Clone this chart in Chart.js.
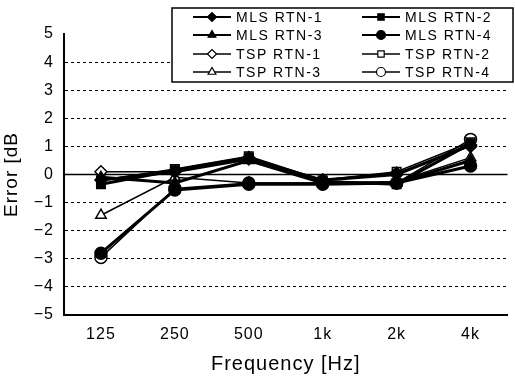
<!DOCTYPE html>
<html><head><meta charset="utf-8">
<script src="https://cdn.jsdelivr.net/npm/chart.js@4/dist/chart.umd.min.js"></script>
<style>html,body{margin:0;padding:0;background:#fff}#wrap{width:515px;height:376px}</style>
</head><body><div id="wrap"><canvas id="c" width="515" height="376"></canvas></div>
<script>
const categories = ['125', '250', '500', '1k', '2k', '4k'];
const yTicks = [5, 4, 3, 2, 1, 0, -1, -2, -3, -4, -5];
const seriesNames = ['MLS RTN-1', 'MLS RTN-2', 'MLS RTN-3', 'MLS RTN-4', 'TSP RTN-1', 'TSP RTN-2', 'TSP RTN-3', 'TSP RTN-4'];
const mlsRtn1 = [-0.2, 0.1, 0.55, -0.2, 0.0, 1.05];
const mlsRtn2 = [-0.35, 0.15, 0.6, -0.25, -0.35, 1.1];
const mlsRtn3 = [-0.1, -0.3, 0.5, -0.3, -0.3, 0.5];
const mlsRtn4 = [-2.8, -0.55, -0.35, -0.35, -0.3, 0.3];
const tspRtn1 = [0.1, 0.1, 0.6, -0.2, 0.05, 1.0];
const tspRtn2 = [-0.2, 0.2, 0.65, -0.2, 0.1, 1.15];
const tspRtn3 = [-1.45, -0.1, -0.3, -0.3, -0.25, 0.6];
const tspRtn4 = [-2.95, -0.5, -0.3, -0.3, -0.3, 1.25];

const values = [mlsRtn1, mlsRtn2, mlsRtn3, mlsRtn4, tspRtn1, tspRtn2, tspRtn3, tspRtn4];
const styles = ['rectRot', 'rect', 'triangle', 'circle', 'rectRot', 'rect', 'triangle', 'circle'];
const FONT = '"Liberation Sans", Arial, sans-serif';

const datasets = values.map((v, i) => {
  const filled = i < 4;
  return {
    label: seriesNames[i],
    data: v,
    borderColor: '#000',
    borderWidth: filled ? 3 : 1.5,
    backgroundColor: filled ? '#000' : '#fff',
    pointBackgroundColor: filled ? '#000' : '#fff',
    pointBorderColor: '#000',
    pointBorderWidth: 1.5,
    pointStyle: styles[i],
    pointRadius: 6,
    tension: 0
  };
});

const letterPlugin = {
  id: 'letter',
  beforeDraw(chart) { chart.ctx.letterSpacing = '1px'; }
};

const zeroLine = {
  id: 'zeroLine',
  beforeDatasetsDraw(chart) {
    const y = chart.scales.y.getPixelForValue(0);
    const a = chart.chartArea;
    const ctx = chart.ctx;
    ctx.save();
    ctx.strokeStyle = '#000'; ctx.lineWidth = 1.5; ctx.setLineDash([]);
    ctx.beginPath(); ctx.moveTo(a.left, y); ctx.lineTo(a.right, y); ctx.stroke();
    ctx.restore();
  }
};

const boxLegend = {
  id: 'boxLegend',
  afterDraw(chart) {
    const ctx = chart.ctx;
    ctx.save();
    ctx.fillStyle = '#fff';
    ctx.fillRect(172, 8, 341, 74);
    ctx.strokeStyle = '#000'; ctx.lineWidth = 1.5; ctx.setLineDash([]);
    ctx.strokeRect(172, 8, 341, 74);
    const rows = [17, 35, 54, 72];
    const cols = [{x0: 193, x1: 231, tx: 236}, {x0: 362, x1: 400, tx: 405}];
    ctx.font = '14px ' + FONT;
    ctx.letterSpacing = '1.5px';
    ctx.textBaseline = 'middle';
    chart.data.datasets.forEach((ds, i) => {
      const c = cols[i % 2];
      const y = rows[Math.floor(i / 2)];
      ctx.strokeStyle = '#000';
      ctx.lineWidth = i < 4 ? 2 : 1.5;
      ctx.beginPath(); ctx.moveTo(c.x0, y); ctx.lineTo(c.x1, y); ctx.stroke();
      ctx.fillStyle = ds.pointBackgroundColor;
      ctx.strokeStyle = '#000';
      ctx.lineWidth = 1.2;
      Chart.helpers.drawPoint(ctx, {
        pointStyle: ds.pointStyle, radius: 4.5, rotation: 0, borderWidth: 1.2
      }, (c.x0 + c.x1) / 2, y);
      ctx.fillStyle = '#000';
      ctx.fillText(ds.label, c.tx, y + 1);
    });
    ctx.restore();
  }
};

new Chart(document.getElementById('c'), {
  type: 'line',
  data: { labels: categories, datasets: datasets },
  plugins: [letterPlugin, zeroLine, boxLegend],
  options: {
    responsive: false,
    animation: false,
    devicePixelRatio: 1,
    layout: { padding: { top: 34, right: 1, left: 0, bottom: 0 } },
    plugins: { legend: { display: false }, tooltip: { enabled: false } },
    elements: { point: { hoverRadius: 6 } },
    scales: {
      x: {
        offset: true,
        grid: { display: false, drawTicks: false },
        border: { display: true, color: '#000', width: 2 },
        ticks: { color: '#000', font: { family: FONT, size: 16 }, padding: 10, maxRotation: 0 },
        title: { display: true, text: 'Frequency [Hz]', color: '#000', font: { family: FONT, size: 20 }, padding: { top: 2, bottom: 0 } },
        afterFit(s) { s.height = 61; }
      },
      y: {
        min: -5, max: 5,
        afterBuildTicks(s) { s.ticks = yTicks.map(v => ({ value: v })); },
        grid: {
          drawTicks: false,
          color: (ctx) => (ctx.tick && (ctx.tick.value === 5 || ctx.tick.value === -5 || ctx.tick.value === 0)) ? 'rgba(0,0,0,0)' : '#000',
          lineWidth: 1
        },
        border: { display: true, color: '#000', width: 2, dash: [3, 3] },
        ticks: {
          color: '#000', font: { family: FONT, size: 16 }, padding: 10,
          callback: (v) => String(v).replace('-', '\u2212')
        },
        title: { display: true, text: 'Error [dB', color: '#000', font: { family: FONT, size: 19 }, padding: { top: 0, bottom: 6 } },
        afterFit(s) { s.width = 64; }
      }
    }
  }
});
</script></body></html>
